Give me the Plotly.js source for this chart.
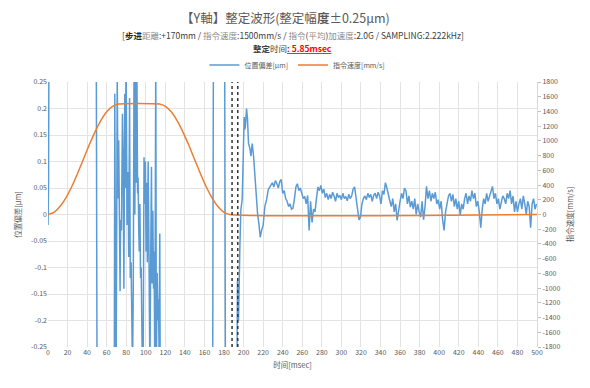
<!DOCTYPE html>
<html>
<head>
<meta charset="utf-8">
<script src="https://cdn.plot.ly/plotly-3.0.1.min.js"></script>
<style>
  html, body { margin: 0; padding: 0; background: #ffffff; }
  #chart { width: 590px; height: 388px; }
</style>
</head>
<body>
<div id="chart"></div>
<script>
// ---------- data ----------
// command velocity [mm/s] vs time [msec]
const velT = [0, 6, 12, 18, 24, 30, 36, 42, 48, 54, 60, 66, 72,
              114, 120, 126, 132, 138, 144, 150, 156, 162, 168, 174, 180, 186, 500];
const velV = [0, 28, 105, 220, 370, 550, 745, 940, 1120, 1275, 1395, 1470, 1500,
              1500, 1470, 1395, 1275, 1120, 940, 745, 550, 370, 220, 105, 28, 0, 0];

// position error [µm] during the move (values outside ±0.25 are clipped by the axis)
const errT = [0, 0.5, 1.5, 25, 49, 50.5, 60, 67.5, 68.3, 69.5, 70.8, 71.6, 72.3, 72.8, 73.7, 74.2,
  75.1, 76.1, 76.8, 77.6, 78.5, 79.2, 79.8, 80.8, 81.9, 82.5, 83.4, 84.1, 85.0, 85.6, 86.4,
  87.2, 88.0, 88.8, 89.5, 90.2, 90.9, 91.6, 92.1, 92.8, 93.3, 94.0, 94.6, 95.3, 95.8, 96.5,
  97.3, 98.2, 99.0, 99.6, 100.3, 100.9, 101.6, 102.4, 103.1, 103.6, 104.2, 105.0, 105.8,
  106.4, 107.2, 107.9, 108.5, 109.2, 110.2, 110.8, 111.6, 112.4, 113.0, 113.6, 114.3, 115.0,
  140, 168.0, 169.5, 180, 181.8, 190, 193.3, 193.7, 194.3, 194.8, 195.4, 196.2, 197.2, 198.6,
  199.6, 200.6, 201.3, 202, 203, 204, 205, 206.4, 207.5, 208.8, 210.2, 211.6, 213.3, 214.3,
  215.7, 217, 218.4, 220, 221.8, 223.5, 225.2, 227];
const errV = [-0.02, 0.05, 0.6, 0.8, 0.6, -0.6, -0.8, -0.6, 0.228, -0.4, 0.26, 0.03, 0.14, -0.045, -0.145, -0.01,
  -0.03, 0.19, 0.11, -0.14, 0.228, 0.05, 0.32, -0.02, 0.08, -0.08, 0.22, -0.12, -0.09, -0.18, -0.3,
  -0.14, 0.3, 0.0, 0.26, 0.06, 0.28, 0.04, 0.07, -0.03, -0.07, 0.02, -0.12, -0.1, -0.19, -0.3,
  -0.28, 0.108, 0.02, 0.1, -0.07, 0.06, -0.09, 0.1, -0.04, -0.14, -0.3, -0.08, 0.09,
  -0.13, 0.007, -0.14, -0.07, -0.3, 0.3, -0.3, -0.11, -0.2, -0.16, -0.26, -0.036, -0.5,
  -0.9, -0.6, 0.6, 0.8, -0.6, -0.7, -0.27, -0.125, -0.16, -0.2, -0.12, -0.06, 0.008, 0.03,
  0.108, 0.184, 0.16, 0.17, 0.2, 0.18, 0.134, 0.125, 0.11, 0.134, 0.11, 0.07, 0.03, 0.001,
  -0.018, -0.043, -0.03, -0.02, 0.016, 0.028, 0.047, 0.053];

// settled tail of the position error, sampled every 1.5 msec from 228 msec
const tailStart = 228;
const tailStep = 1.5;
const tailV = [
  0.055, 0.060, 0.052, 0.064, 0.058, 0.050, 0.062, 0.066,
  0.040, 0.045, 0.030, 0.025, 0.015, 0.020, 0.010, 0.012,
  0.030, 0.052, 0.058, 0.045, 0.050, 0.038, 0.030, 0.034,
  0.020, 0.036, -0.030, 0.025, -0.015, 0.010, 0.005, 0.030,
  0.052, 0.045, 0.055, 0.040, 0.048, 0.032, 0.040, 0.028,
  0.038, 0.030, 0.042, 0.035, 0.025, 0.040, 0.032, 0.036,
  0.028, 0.040, 0.030, 0.034, 0.026, 0.038, 0.030, 0.035,
  0.048, 0.052, 0.030, 0.010, -0.010, -0.005, 0.020, 0.030,
  0.035, 0.028, 0.040, 0.032, 0.038, 0.025, 0.036, 0.040,
  0.030, 0.042, 0.035, 0.020, 0.045, 0.038, 0.060, 0.050,
  0.035, 0.026, 0.015, 0.030, 0.005, 0.020, -0.011, 0.010,
  0.025, 0.040, 0.030, 0.050, 0.045, 0.020, 0.035, 0.014,
  0.025, 0.010, 0.030, 0.000, 0.020, 0.005, -0.005, 0.025,
  -0.010, 0.015, 0.053, 0.030, 0.045, 0.025, 0.040, 0.030,
  0.042, 0.020, 0.028, 0.010, 0.025, -0.010, -0.030, 0.005,
  0.020, 0.035, 0.040, 0.025, 0.038, 0.015, 0.030, 0.010,
  0.025, -0.001, 0.020, 0.010, 0.030, 0.040, 0.020, 0.035,
  0.025, 0.045, 0.030, 0.040, 0.015, 0.025, 0.005, -0.025,
  0.010, 0.030, 0.020, 0.040, 0.025, 0.035, 0.045, 0.053,
  0.030, 0.040, 0.020, 0.030, 0.010, 0.025, 0.035, 0.030,
  0.020, 0.040, 0.030, 0.045, 0.020, 0.035, 0.005, 0.025,
  0.005, 0.020, 0.030, 0.010, 0.035, 0.020, 0.000, 0.025,
  0.015, -0.025, 0.020, 0.030, 0.010, 0.020];

// settling window markers [msec]
const settleMarks = [188.2, 194.05];

// tick labels
const xTickVals = [0,20,40,60,80,100,120,140,160,180,200,220,240,260,280,300,320,340,360,380,400,420,440,460,480,500];
const yTickVals = [0.25,0.2,0.15,0.1,0.05,0,-0.05,-0.1,-0.15,-0.2,-0.25];
const yTickText = ['0.25','0.2','0.15','0.1','0.05','0','-0.05','-0.1','-0.15','-0.2','-0.25'];
const y2TickVals = [1800,1600,1400,1200,1000,800,600,400,200,0,-200,-400,-600,-800,-1000,-1200,-1400,-1600,-1800];
const y2TickText = y2TickVals.map(v => String(v).replace('\u2212','-'));

// ---------- build ----------
const tailT = tailV.map((_, i) => tailStart + i * tailStep);
const blueX = errT.concat(tailT);
const blueY = errV.concat(tailV);

const FONT = '"Noto Sans CJK JP", "Noto Sans", sans-serif';
const GRID = '#e3e3e3';
const TXT = '#595959';

const traces = [
  { x: blueX, y: blueY, type: 'scatter', mode: 'lines', name: '位置偏差[μm]',
    line: { color: '#5B9BD5', width: 1.5 }, yaxis: 'y' },
  { x: velT, y: velV, type: 'scatter', mode: 'lines', name: '指令速度[mm/s]',
    line: { color: '#ED7D31', width: 1.5, shape: 'spline', smoothing: 0.6 }, yaxis: 'y2' }
];

const shapes = settleMarks.map(t => ({
  type: 'line', xref: 'x', yref: 'paper', x0: t, x1: t, y0: 0, y1: 1,
  line: { color: '#333333', width: 1.5, dash: 'dot' }
}));

const layout = {
  width: 590, height: 388,
  margin: { l: 48, r: 53, t: 82, b: 41 },
  paper_bgcolor: '#ffffff', plot_bgcolor: '#ffffff',
  font: { family: FONT, size: 7, color: TXT },
  showlegend: true,
  legend: { orientation: 'h', x: 0.51, xanchor: 'center', y: 1.064, yanchor: 'middle',
            font: { size: 7, color: TXT }, itemwidth: 30, bgcolor: 'rgba(0,0,0,0)' },
  xaxis: {
    range: [0, 500], tickvals: xTickVals, ticktext: xTickVals.map(String),
    showgrid: true, gridcolor: GRID, gridwidth: 1, zeroline: false,
    showline: false, ticks: '', tickfont: { size: 7, color: TXT },
    title: { text: '时间[msec]', font: { size: 7.5, color: TXT }, standoff: 6 }
  },
  yaxis: {
    range: [-0.25, 0.25], tickvals: yTickVals, ticktext: yTickText,
    showgrid: true, gridcolor: GRID, gridwidth: 1, zeroline: false,
    showline: false, ticks: '', tickfont: { size: 7, color: TXT },
    title: { text: '位置偏差[μm]', font: { size: 7.5, color: TXT }, standoff: 8 }
  },
  yaxis2: {
    overlaying: 'y', side: 'right',
    range: [-1800, 1800], tickvals: y2TickVals, ticktext: y2TickText,
    showgrid: false, zeroline: false,
    showline: true, linecolor: '#d9d9d9', linewidth: 1,
    ticks: 'outside', ticklen: 3, tickcolor: '#bfbfbf',
    tickfont: { size: 7, color: TXT },
    title: { text: '指令速度[mm/s]', font: { size: 7.5, color: TXT }, standoff: 8 }
  },
  shapes: shapes,
  annotations: [
    { xref: 'paper', yref: 'paper', x: 0.485, y: 1.245, xanchor: 'center', yanchor: 'middle',
      showarrow: false, text: '【Y軸】整定波形(整定幅<b>度</b>±0.25μm)',
      font: { size: 12.5, color: TXT, family: FONT } },
    { xref: 'paper', yref: 'paper', x: 0.5, y: 1.177, xanchor: 'center', yanchor: 'middle',
      showarrow: false,
      text: '<span style="color:#404040">[</span><b><span style="color:#262626">步进</span></b>距離<span style="color:#404040">:+170mm / </span>指令速度<span style="color:#404040">:1500mm/s / </span>指令<span style="color:#404040">(</span>平均<span style="color:#404040">)</span>加速度<span style="color:#404040">:2.0G / SAMPLING:2.222kHz]</span>',
      font: { size: 8.5, color: '#8c8c8c', family: FONT } },
    { xref: 'paper', yref: 'paper', x: 0.5, y: 1.128, xanchor: 'center', yanchor: 'middle',
      showarrow: false,
      text: '<b>整定</b>时间<b><span style="color:#ff0000;text-decoration:underline">: 5.85msec</span></b>',
      font: { size: 8.5, color: '#404040', family: FONT } }
  ]
};

Plotly.newPlot('chart', traces, layout, { displayModeBar: false, staticPlot: true });
</script>
</body>
</html>
